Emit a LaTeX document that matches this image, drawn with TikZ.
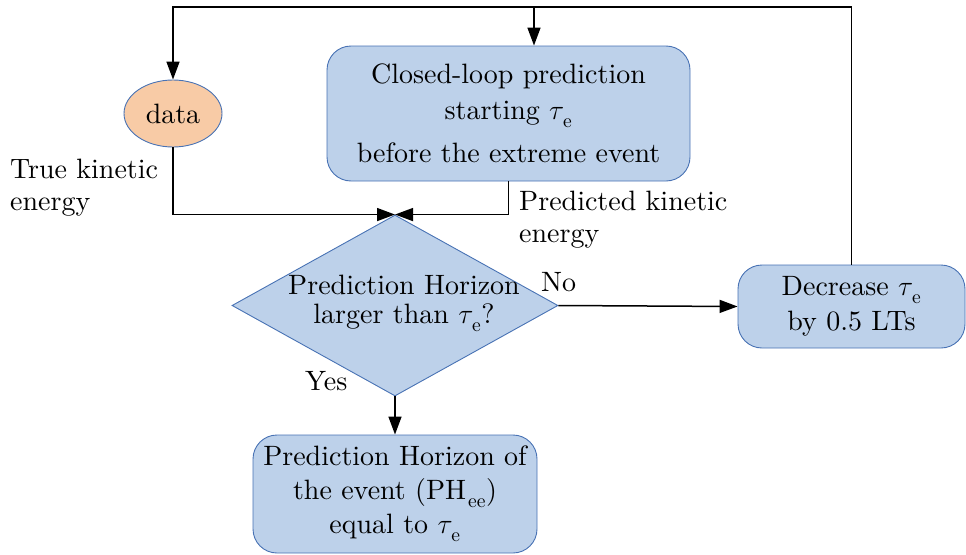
\documentclass[tikz,border=0pt]{standalone}
\usepackage{fix-cm}
\usepackage{fontspec}
\setmainfont{lmroman10-regular.otf}[ItalicFont=lmroman10-italic.otf, BoldFont=lmroman10-bold.otf]
\usetikzlibrary{arrows.meta,shapes.geometric}
\definecolor{boxfill}{RGB}{189,209,234}
\definecolor{boxline}{RGB}{72,114,180}
\definecolor{peach}{RGB}{248,203,166}
% lowered upright subscripts
\newcommand{\lowsub}[1]{\kern2pt\raisebox{-4pt}{$\scriptstyle\mathrm{#1}$}}
\newcommand{\taue}{\ensuremath{\tau_{\lowsub{e}}}}
\tikzset{
  big/.style={font=\fontsize{28}{35}\selectfont},
  stepbox/.style={draw=boxline, fill=boxfill, line width=0.9pt, rounded corners=24pt,
    align=center, inner sep=0pt, big},
  conn/.style={line width=1.5pt, -{Triangle[length=18pt,width=13pt]}},
  lbl/.style={big, inner sep=0pt},
}
\begin{document}
\begin{tikzpicture}[x=1pt, y=-1pt]
\useasboundingbox (0,0) rectangle (966,554);

% process nodes
\node[ellipse, draw=boxline, fill=peach, line width=0.9pt, minimum width=98pt,
      minimum height=67pt, inner sep=0pt, big] (data) at (173,113.5) {data};
\node[stepbox, minimum width=363pt, minimum height=135pt,
      font=\fontsize{28}{36}\selectfont] (cl) at (508.5,113.5)
  {Closed-loop prediction\\ starting \taue\\[7pt] before the extreme event};
\node[diamond, draw=boxline, fill=boxfill, line width=0.9pt, minimum width=326pt,
      minimum height=181pt, inner sep=0pt] (dia) at (395,305.5) {};
\node[lbl, align=center, font=\fontsize{28}{29}\selectfont] (diatext) at (404,303)
  {Prediction Horizon\\ larger than \taue?};
\node[stepbox, minimum width=227pt, minimum height=83pt] (dbox) at (851.5,306.5)
  {Decrease \taue\\ by 0.5 LTs};
\node[stepbox, minimum width=284pt, minimum height=118pt,
      font=\fontsize{28}{34}\selectfont] (ph) at (395,494)
  {Prediction Horizon of\\ the event (PH$_{\lowsub{ee}}$)\\ equal to \taue};

% edge labels
\node[lbl, align=left, anchor=west, font=\fontsize{28}{32}\selectfont] (truelbl) at (10,188)
  {True kinetic\\ energy};
\node[lbl, align=left, anchor=west, font=\fontsize{28}{32}\selectfont] (predlbl) at (519,220)
  {Predicted kinetic\\ energy};
\node[lbl, anchor=base west] (nolbl) at (541,291) {No};
\node[lbl, anchor=base west] (yeslbl) at (305,390) {Yes};

% feedback loop along the top
\coordinate (loop) at (851.5,7);
\coordinate (branch) at (534,7);
\draw[conn] (dbox.north) -- (dbox.north |- loop) -| (data.north);
\draw[conn] (branch) -- (branch |- cl.north);

% signals into the decision
\draw[conn] (data.south) |- (dia.north);
\draw[conn] (cl.south) |- (dia.north);
\draw[conn] (dia.east) -- (dbox.west);
\draw[conn] (dia.south) -- (ph.north);
\end{tikzpicture}
\end{document}
